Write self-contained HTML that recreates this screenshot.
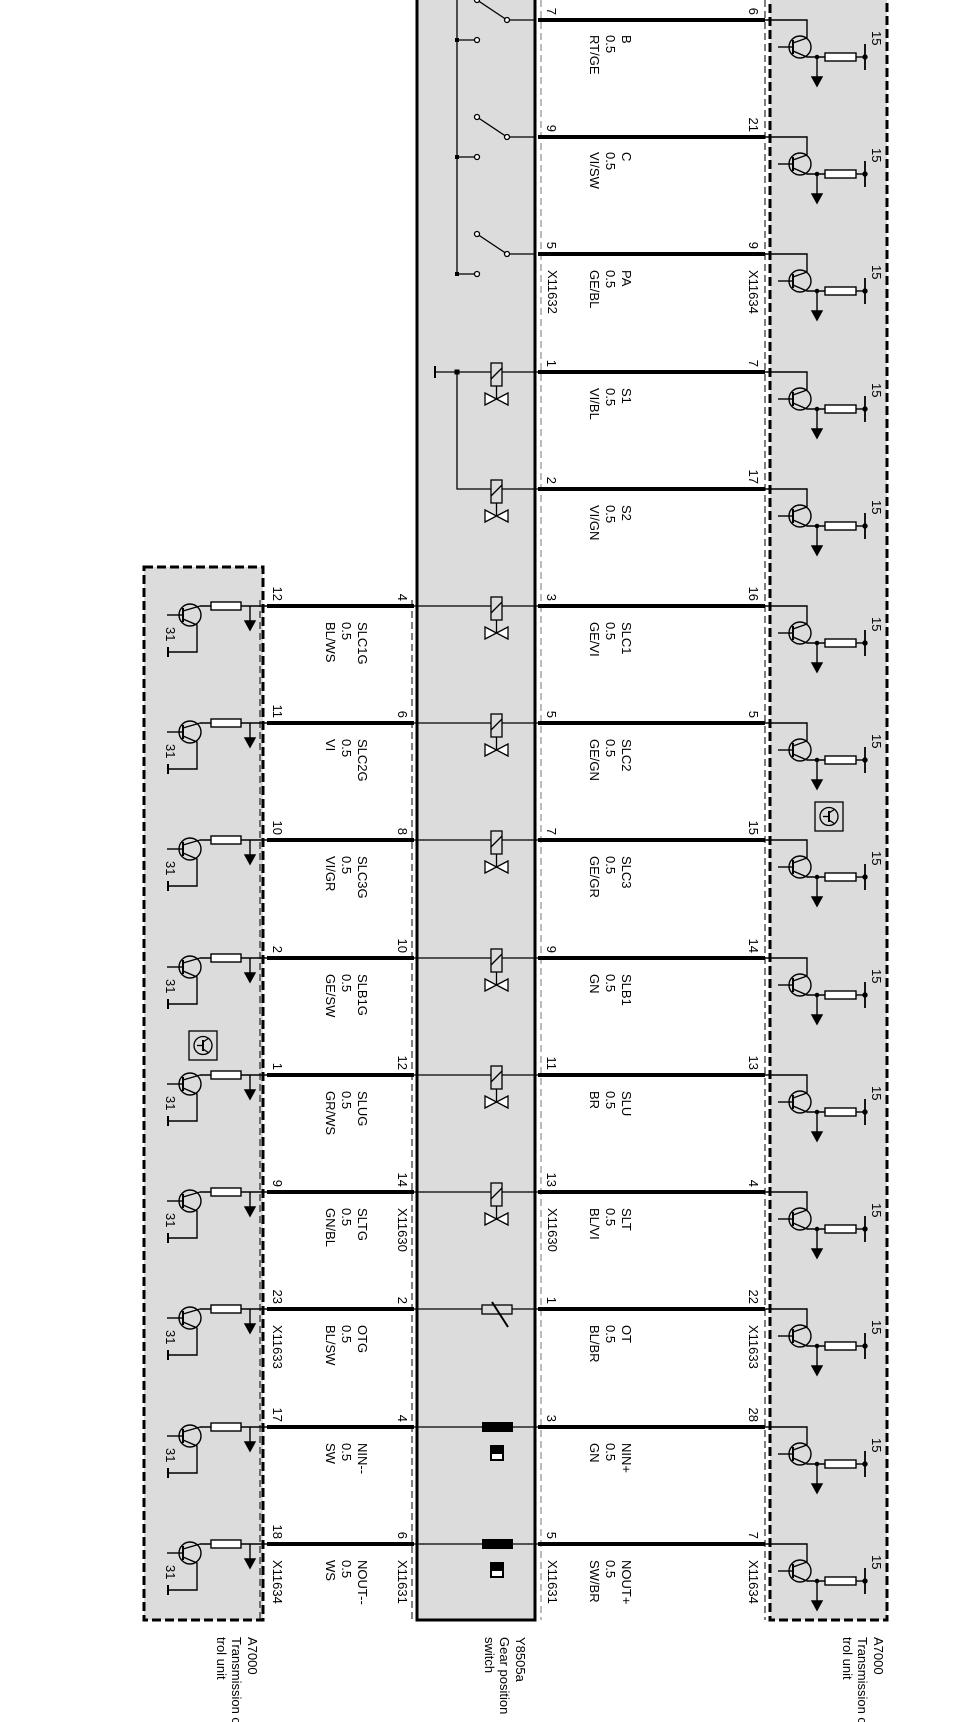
<!DOCTYPE html>
<html><head><meta charset="utf-8"><style>
html,body{margin:0;padding:0;background:#fff;}
svg{display:block;}
text{font-family:"Liberation Sans",Arial,sans-serif;font-size:13px;fill:#000;}
</style></head><body>
<svg width="966" height="1722" viewBox="0 0 966 1722" xmlns="http://www.w3.org/2000/svg">
<defs>
<g id="recu" fill="none" stroke="#000" stroke-width="1.4">
  <path d="M765 0 H807 V18"/>
  <circle cx="800" cy="27" r="11"/>
  <line x1="778" y1="27" x2="793" y2="27"/>
  <line x1="793" y1="20" x2="793" y2="34" stroke-width="2"/>
  <line x1="793" y1="23" x2="807" y2="18"/>
  <path d="M793 31 L807 37 H825"/>
  <rect x="825" y="33" width="31" height="8" fill="#fff"/>
  <line x1="856" y1="37" x2="865" y2="37"/>
  <line x1="865" y1="24" x2="865" y2="50" stroke-width="1.8"/>
  <line x1="817" y1="37" x2="817" y2="58"/>
  <polygon points="812,57 822,57 817,66" fill="#000"/>
  <circle cx="817" cy="37" r="1.6" fill="#000"/>
  <circle cx="865" cy="37" r="2" fill="#000"/>
</g>
<g id="lecu" fill="none" stroke="#000" stroke-width="1.4">
  <line x1="200" y1="0" x2="267" y2="0"/>
  <rect x="211" y="-4" width="30" height="8" fill="#fff"/>
  <circle cx="190" cy="9" r="11"/>
  <line x1="167" y1="9" x2="183" y2="9"/>
  <line x1="183" y1="2" x2="183" y2="16" stroke-width="2"/>
  <path d="M183 5 L200 0"/>
  <path d="M183 13 L197 19 V46 H168"/>
  <line x1="168" y1="41" x2="168" y2="51" stroke-width="2"/>
  <line x1="250" y1="0" x2="250" y2="16"/>
  <polygon points="245,15 255,15 250,24" fill="#000"/>
</g>
<g id="sol" fill="none" stroke="#000" stroke-width="1.3">
  <rect x="491" y="-9" width="11" height="23" fill="#dcdcdc"/>
  <line x1="491" y1="7" x2="502" y2="-4"/>
  <line x1="496.5" y1="14" x2="496.5" y2="27"/>
  <polygon points="485,21 485,33 496.5,27" fill="#fff"/>
  <polygon points="508,21 508,33 496.5,27" fill="#fff"/>
</g>
<g id="sw" fill="none" stroke="#000" stroke-width="1.3">
  <line x1="507" y1="0" x2="535" y2="0"/>
  <line x1="507" y1="0" x2="477" y2="-20"/>
  <circle cx="507" cy="0" r="2.5" fill="#fff"/>
  <circle cx="477" cy="-20" r="2.5" fill="#fff"/>
  <line x1="457" y1="20" x2="475" y2="20"/>
  <circle cx="477" cy="20" r="2.5" fill="#fff"/>
  <rect x="455" y="18" width="4" height="4" fill="#000" stroke="none"/>
</g>
<g id="nsw">
  <rect x="482" y="-5" width="31" height="10" fill="#000"/>
  <rect x="490" y="18" width="14" height="16" fill="#000"/>
  <rect x="492" y="27" width="10" height="5" fill="#fff"/>
</g>
<g id="icon" fill="none" stroke="#000" stroke-width="1.3">
  <rect x="0" y="0" width="28" height="29"/>
  <circle cx="14" cy="14.5" r="9"/>
  <line x1="8" y1="14.5" x2="14" y2="14.5"/>
  <line x1="14" y1="9" x2="14" y2="20" stroke-width="2"/>
  <line x1="14" y1="11" x2="20" y2="7"/>
  <line x1="14" y1="18" x2="20" y2="22"/>
</g>
</defs>

<!-- boxes -->
<rect x="770" y="-10" width="117" height="1630" fill="#dcdcdc" stroke="#000" stroke-width="3" stroke-dasharray="9,4"/>
<rect x="144" y="567" width="119" height="1053" fill="#dcdcdc" stroke="#000" stroke-width="3" stroke-dasharray="9,4"/>
<rect x="417" y="-10" width="118" height="1630" fill="#dcdcdc" stroke="#000" stroke-width="3"/>
<line x1="765" y1="0" x2="765" y2="1620" stroke="#000" stroke-width="1" stroke-dasharray="7,4"/>
<line x1="541" y1="0" x2="541" y2="1620" stroke="#777" stroke-width="1" stroke-dasharray="7,4"/>
<line x1="260" y1="600" x2="260" y2="1620" stroke="#000" stroke-width="1" stroke-dasharray="7,4"/>
<line x1="412" y1="600" x2="412" y2="1620" stroke="#000" stroke-width="1" stroke-dasharray="7,4"/>

<!-- right wires -->
<g stroke="#000" stroke-width="4">
<line x1="538" y1="20" x2="765" y2="20"/><line x1="538" y1="137" x2="765" y2="137"/>
<line x1="538" y1="254" x2="765" y2="254"/><line x1="538" y1="372" x2="765" y2="372"/>
<line x1="538" y1="489" x2="765" y2="489"/><line x1="538" y1="606" x2="765" y2="606"/>
<line x1="538" y1="723" x2="765" y2="723"/><line x1="538" y1="840" x2="765" y2="840"/>
<line x1="538" y1="958" x2="765" y2="958"/><line x1="538" y1="1075" x2="765" y2="1075"/>
<line x1="538" y1="1192" x2="765" y2="1192"/><line x1="538" y1="1309" x2="765" y2="1309"/>
<line x1="538" y1="1427" x2="765" y2="1427"/><line x1="538" y1="1544" x2="765" y2="1544"/>
<!-- left wires -->
<line x1="267" y1="606" x2="414" y2="606"/><line x1="267" y1="723" x2="414" y2="723"/>
<line x1="267" y1="840" x2="414" y2="840"/><line x1="267" y1="958" x2="414" y2="958"/>
<line x1="267" y1="1075" x2="414" y2="1075"/><line x1="267" y1="1192" x2="414" y2="1192"/>
<line x1="267" y1="1309" x2="414" y2="1309"/><line x1="267" y1="1427" x2="414" y2="1427"/>
<line x1="267" y1="1544" x2="414" y2="1544"/>
</g>

<!-- thin lines through gear box -->
<g stroke="#000" stroke-width="1.3" fill="none">
<line x1="435" y1="372" x2="538" y2="372"/>
<line x1="435" y1="366" x2="435" y2="378" stroke-width="2"/>
<path d="M457 372 V489 H538"/>
<line x1="457" y1="-10" x2="457" y2="274"/>
<line x1="414" y1="606" x2="538" y2="606"/><line x1="414" y1="723" x2="538" y2="723"/>
<line x1="414" y1="840" x2="538" y2="840"/><line x1="414" y1="958" x2="538" y2="958"/>
<line x1="414" y1="1075" x2="538" y2="1075"/><line x1="414" y1="1192" x2="538" y2="1192"/>
<line x1="414" y1="1309" x2="538" y2="1309"/><line x1="414" y1="1427" x2="538" y2="1427"/>
<line x1="414" y1="1544" x2="538" y2="1544"/>
</g>
<rect x="454.5" y="369.5" width="5" height="5" fill="#000"/>

<use href="#sw" transform="translate(0,20)"/>
<use href="#sw" transform="translate(0,137)"/>
<use href="#sw" transform="translate(0,254)"/>
<use href="#sol" transform="translate(0,372)"/>
<use href="#sol" transform="translate(0,489)"/>
<use href="#sol" transform="translate(0,606)"/>
<use href="#sol" transform="translate(0,723)"/>
<use href="#sol" transform="translate(0,840)"/>
<use href="#sol" transform="translate(0,958)"/>
<use href="#sol" transform="translate(0,1075)"/>
<use href="#sol" transform="translate(0,1192)"/>
<g stroke="#000" stroke-width="1.3" fill="none">
<rect x="482" y="1305" width="30" height="9" fill="#dcdcdc"/>
<line x1="492" y1="1302" x2="508" y2="1327" stroke-width="2"/>
</g>
<use href="#nsw" transform="translate(0,1427)"/>
<use href="#nsw" transform="translate(0,1544)"/>

<!-- ECU circuits -->
<use href="#recu" transform="translate(0,20)"/><use href="#recu" transform="translate(0,137)"/>
<use href="#recu" transform="translate(0,254)"/><use href="#recu" transform="translate(0,372)"/>
<use href="#recu" transform="translate(0,489)"/><use href="#recu" transform="translate(0,606)"/>
<use href="#recu" transform="translate(0,723)"/><use href="#recu" transform="translate(0,840)"/>
<use href="#recu" transform="translate(0,958)"/><use href="#recu" transform="translate(0,1075)"/>
<use href="#recu" transform="translate(0,1192)"/><use href="#recu" transform="translate(0,1309)"/>
<use href="#recu" transform="translate(0,1427)"/><use href="#recu" transform="translate(0,1544)"/>
<use href="#lecu" transform="translate(0,606)"/><use href="#lecu" transform="translate(0,723)"/>
<use href="#lecu" transform="translate(0,840)"/><use href="#lecu" transform="translate(0,958)"/>
<use href="#lecu" transform="translate(0,1075)"/><use href="#lecu" transform="translate(0,1192)"/>
<use href="#lecu" transform="translate(0,1309)"/><use href="#lecu" transform="translate(0,1427)"/>
<use href="#lecu" transform="translate(0,1544)"/>
<use href="#icon" transform="translate(815,802)"/>
<use href="#icon" transform="translate(189,1031)"/>

<!-- "15" labels -->
<g font-size="12">
<text transform="translate(872,31) rotate(90)">15</text><text transform="translate(872,148) rotate(90)">15</text>
<text transform="translate(872,265) rotate(90)">15</text><text transform="translate(872,383) rotate(90)">15</text>
<text transform="translate(872,500) rotate(90)">15</text><text transform="translate(872,617) rotate(90)">15</text>
<text transform="translate(872,734) rotate(90)">15</text><text transform="translate(872,851) rotate(90)">15</text>
<text transform="translate(872,969) rotate(90)">15</text><text transform="translate(872,1086) rotate(90)">15</text>
<text transform="translate(872,1203) rotate(90)">15</text><text transform="translate(872,1320) rotate(90)">15</text>
<text transform="translate(872,1438) rotate(90)">15</text><text transform="translate(872,1555) rotate(90)">15</text>
<text transform="translate(166,627) rotate(90)">31</text><text transform="translate(166,744) rotate(90)">31</text>
<text transform="translate(166,861) rotate(90)">31</text><text transform="translate(166,979) rotate(90)">31</text>
<text transform="translate(166,1096) rotate(90)">31</text><text transform="translate(166,1213) rotate(90)">31</text>
<text transform="translate(166,1330) rotate(90)">31</text><text transform="translate(166,1448) rotate(90)">31</text>
<text transform="translate(166,1565) rotate(90)">31</text>
</g>

<!-- pin numbers -->
<g text-anchor="end">
<text transform="translate(547,15) rotate(90)">7</text><text transform="translate(749,15) rotate(90)">6</text>
<text transform="translate(547,132) rotate(90)">9</text><text transform="translate(749,132) rotate(90)">21</text>
<text transform="translate(547,249) rotate(90)">5</text><text transform="translate(749,249) rotate(90)">9</text>
<text transform="translate(547,367) rotate(90)">1</text><text transform="translate(749,367) rotate(90)">7</text>
<text transform="translate(547,484) rotate(90)">2</text><text transform="translate(749,484) rotate(90)">17</text>
<text transform="translate(547,601) rotate(90)">3</text><text transform="translate(749,601) rotate(90)">16</text>
<text transform="translate(547,718) rotate(90)">5</text><text transform="translate(749,718) rotate(90)">5</text>
<text transform="translate(547,835) rotate(90)">7</text><text transform="translate(749,835) rotate(90)">15</text>
<text transform="translate(547,953) rotate(90)">9</text><text transform="translate(749,953) rotate(90)">14</text>
<text transform="translate(547,1070) rotate(90)">11</text><text transform="translate(749,1070) rotate(90)">13</text>
<text transform="translate(547,1187) rotate(90)">13</text><text transform="translate(749,1187) rotate(90)">4</text>
<text transform="translate(547,1304) rotate(90)">1</text><text transform="translate(749,1304) rotate(90)">22</text>
<text transform="translate(547,1422) rotate(90)">3</text><text transform="translate(749,1422) rotate(90)">28</text>
<text transform="translate(547,1539) rotate(90)">5</text><text transform="translate(749,1539) rotate(90)">7</text>
<text transform="translate(273,601) rotate(90)">12</text><text transform="translate(398,601) rotate(90)">4</text>
<text transform="translate(273,718) rotate(90)">11</text><text transform="translate(398,718) rotate(90)">6</text>
<text transform="translate(273,835) rotate(90)">10</text><text transform="translate(398,835) rotate(90)">8</text>
<text transform="translate(273,953) rotate(90)">2</text><text transform="translate(398,953) rotate(90)">10</text>
<text transform="translate(273,1070) rotate(90)">1</text><text transform="translate(398,1070) rotate(90)">12</text>
<text transform="translate(273,1187) rotate(90)">9</text><text transform="translate(398,1187) rotate(90)">14</text>
<text transform="translate(273,1304) rotate(90)">23</text><text transform="translate(398,1304) rotate(90)">2</text>
<text transform="translate(273,1422) rotate(90)">17</text><text transform="translate(398,1422) rotate(90)">4</text>
<text transform="translate(273,1539) rotate(90)">18</text><text transform="translate(398,1539) rotate(90)">6</text>
</g>

<!-- connector names -->
<g>
<text transform="translate(548,270) rotate(90)">X11632</text><text transform="translate(749,270) rotate(90)">X11634</text>
<text transform="translate(548,1208) rotate(90)">X11630</text><text transform="translate(398,1208) rotate(90)">X11630</text>
<text transform="translate(749,1325) rotate(90)">X11633</text><text transform="translate(273,1325) rotate(90)">X11633</text>
<text transform="translate(548,1560) rotate(90)">X11631</text><text transform="translate(749,1560) rotate(90)">X11634</text>
<text transform="translate(398,1560) rotate(90)">X11631</text><text transform="translate(273,1560) rotate(90)">X11634</text>
</g>

<!-- wire labels right -->
<g>
<g transform="translate(622,35) rotate(90)"><text x="0" y="0">B</text><text x="0" y="16">0.5</text><text x="0" y="32">RT/GE</text></g>
<g transform="translate(622,152) rotate(90)"><text x="0" y="0">C</text><text x="0" y="16">0.5</text><text x="0" y="32">VI/SW</text></g>
<g transform="translate(622,270) rotate(90)"><text x="0" y="0">PA</text><text x="0" y="16">0.5</text><text x="0" y="32">GE/BL</text></g>
<g transform="translate(622,388) rotate(90)"><text x="0" y="0">S1</text><text x="0" y="16">0.5</text><text x="0" y="32">VI/BL</text></g>
<g transform="translate(622,505) rotate(90)"><text x="0" y="0">S2</text><text x="0" y="16">0.5</text><text x="0" y="32">VI/GN</text></g>
<g transform="translate(622,622) rotate(90)"><text x="0" y="0">SLC1</text><text x="0" y="16">0.5</text><text x="0" y="32">GE/VI</text></g>
<g transform="translate(622,739) rotate(90)"><text x="0" y="0">SLC2</text><text x="0" y="16">0.5</text><text x="0" y="32">GE/GN</text></g>
<g transform="translate(622,856) rotate(90)"><text x="0" y="0">SLC3</text><text x="0" y="16">0.5</text><text x="0" y="32">GE/GR</text></g>
<g transform="translate(622,974) rotate(90)"><text x="0" y="0">SLB1</text><text x="0" y="16">0.5</text><text x="0" y="32">GN</text></g>
<g transform="translate(622,1091) rotate(90)"><text x="0" y="0">SLU</text><text x="0" y="16">0.5</text><text x="0" y="32">BR</text></g>
<g transform="translate(622,1208) rotate(90)"><text x="0" y="0">SLT</text><text x="0" y="16">0.5</text><text x="0" y="32">BL/VI</text></g>
<g transform="translate(622,1325) rotate(90)"><text x="0" y="0">OT</text><text x="0" y="16">0.5</text><text x="0" y="32">BL/BR</text></g>
<g transform="translate(622,1443) rotate(90)"><text x="0" y="0">NIN+</text><text x="0" y="16">0.5</text><text x="0" y="32">GN</text></g>
<g transform="translate(622,1560) rotate(90)"><text x="0" y="0">NOUT+</text><text x="0" y="16">0.5</text><text x="0" y="32">SW/BR</text></g>
</g>
<!-- wire labels left -->
<g>
<g transform="translate(358,622) rotate(90)"><text x="0" y="0">SLC1G</text><text x="0" y="16">0.5</text><text x="0" y="32">BL/WS</text></g>
<g transform="translate(358,739) rotate(90)"><text x="0" y="0">SLC2G</text><text x="0" y="16">0.5</text><text x="0" y="32">VI</text></g>
<g transform="translate(358,856) rotate(90)"><text x="0" y="0">SLC3G</text><text x="0" y="16">0.5</text><text x="0" y="32">VI/GR</text></g>
<g transform="translate(358,974) rotate(90)"><text x="0" y="0">SLB1G</text><text x="0" y="16">0.5</text><text x="0" y="32">GE/SW</text></g>
<g transform="translate(358,1091) rotate(90)"><text x="0" y="0">SLUG</text><text x="0" y="16">0.5</text><text x="0" y="32">GR/WS</text></g>
<g transform="translate(358,1208) rotate(90)"><text x="0" y="0">SLTG</text><text x="0" y="16">0.5</text><text x="0" y="32">GN/BL</text></g>
<g transform="translate(358,1325) rotate(90)"><text x="0" y="0">OTG</text><text x="0" y="16">0.5</text><text x="0" y="32">BL/SW</text></g>
<g transform="translate(358,1443) rotate(90)"><text x="0" y="0">NIN--</text><text x="0" y="16">0.5</text><text x="0" y="32">SW</text></g>
<g transform="translate(358,1560) rotate(90)"><text x="0" y="0">NOUT--</text><text x="0" y="16">0.5</text><text x="0" y="32">WS</text></g>
</g>

<!-- legends -->
<g font-size="12">
<g transform="translate(248,1637) rotate(90)"><text x="0" y="0">A7000</text><text x="0" y="16">Transmission con-</text><text x="0" y="31">trol unit</text></g>
<g transform="translate(516,1637) rotate(90)"><text x="0" y="0">Y8505a</text><text x="0" y="16">Gear position</text><text x="0" y="31">switch</text></g>
<g transform="translate(874,1637) rotate(90)"><text x="0" y="0">A7000</text><text x="0" y="16">Transmission con-</text><text x="0" y="31">trol unit</text></g>
</g>
</svg>
</body></html>
